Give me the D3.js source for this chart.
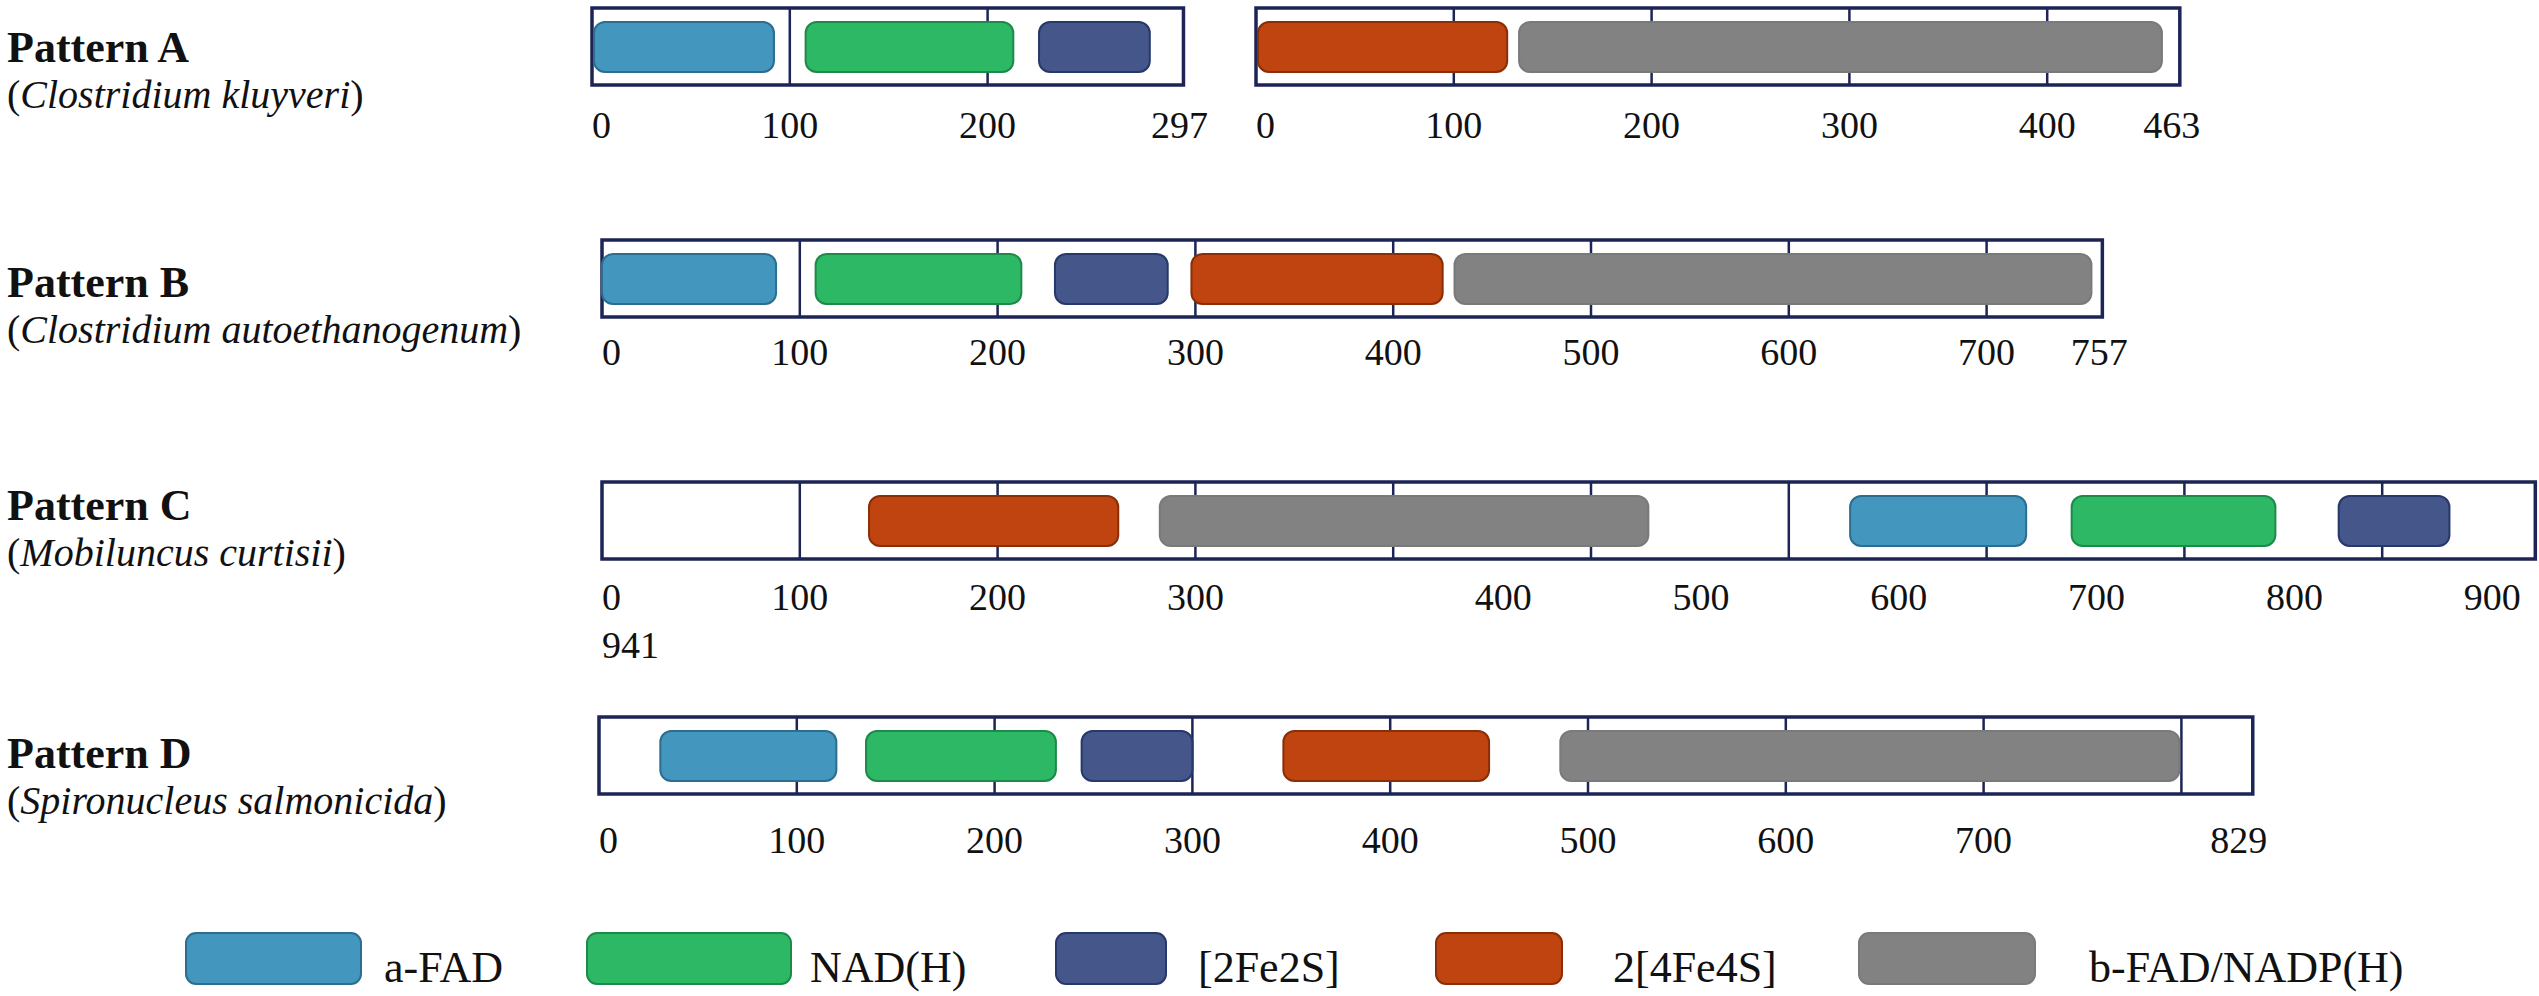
<!DOCTYPE html>
<html>
<head>
<meta charset="utf-8">
<script src="https://cdn.jsdelivr.net/npm/d3@7/dist/d3.min.js"></script>
<style>
  body { margin: 0; background: #fff; }
  text { font-family: "Liberation Serif", "Times New Roman", serif; fill: #111; }
</style>
</head>
<body>
<script>
// ---- data ----
const patternNames = ["Pattern A", "Pattern B", "Pattern C", "Pattern D"];
const speciesNames = ["Clostridium kluyveri", "Clostridium autoethanogenum", "Mobiluncus curtisii", "Spironucleus salmonicida"];
const domainTypes = ["a-FAD", "NAD(H)", "[2Fe2S]", "2[4Fe4S]", "b-FAD/NADP(H)"];

// protein segments (pattern A is split in two chains)
const segmentPattern = [0, 0, 1, 2, 3];
const segmentLength = [297, 463, 757, 941, 829];

// domains per segment: [type, start, end] in residues
const domainsA1 = [["a-FAD", 1, 92], ["NAD(H)", 108, 213], ["[2Fe2S]", 226, 282]];
const domainsA2 = [["2[4Fe4S]", 1, 127], ["b-FAD/NADP(H)", 133, 458]];
const domainsB = [["a-FAD", 0, 88], ["NAD(H)", 108, 212], ["[2Fe2S]", 229, 286], ["2[4Fe4S]", 298, 425], ["b-FAD/NADP(H)", 431, 753]];
const domainsC = [["2[4Fe4S]", 135, 261], ["b-FAD/NADP(H)", 282, 529], ["a-FAD", 631, 720], ["NAD(H)", 743, 846], ["[2Fe2S]", 878, 934]];
const domainsD = [["a-FAD", 31, 120], ["NAD(H)", 135, 231], ["[2Fe2S]", 244, 300], ["2[4Fe4S]", 346, 450], ["b-FAD/NADP(H)", 486, 799]];
const segmentDomains = [domainsA1, domainsA2, domainsB, domainsC, domainsD];

// tick labels per segment
const ticksA1 = [0, 100, 200, 297];
const ticksA2 = [0, 100, 200, 300, 400, 463];
const ticksB = [0, 100, 200, 300, 400, 500, 600, 700, 757];
const ticksC = [0, 100, 200, 300, 400, 500, 600, 700, 800, 900];
const ticksD = [0, 100, 200, 300, 400, 500, 600, 700, 829];
const segmentTicks = [ticksA1, ticksA2, ticksB, ticksC, ticksD];

// ---- layout ----
const width = 2539, height = 996;
const segLeft = [592, 1256, 602, 602, 599];
const segPad = [4, 8, 3, 72, 14];
const rowTop = [8, 240, 482, 717];
const titleY = [62, 297, 520, 768];
const tickY = [138, 365, 610, 853];
const boxH = 77;
const barTop = 14, barH = 50;
const legendX = [186, 587, 1056, 1436, 1859];
const legendW = [175, 204, 110, 126, 176];
const legendGap = [23, 19, 32, 51, 54];

const fillColor = d3.scaleOrdinal(domainTypes, ["#4396bd", "#2db866", "#44568a", "#c0440f", "#828282"]);
const edgeColor = d3.scaleOrdinal(domainTypes, ["#2c6e8f", "#1e8a4a", "#27386a", "#8a2e07", "#7a7a7a"]);

// residues -> pixels, same density for every chain
const x = d3.scaleLinear().domain([0, 100]).range([0, 197.8]);

const svg = d3.select("body").append("svg")
  .attr("width", width)
  .attr("height", height);

// titles
patternNames.forEach((name, i) => {
  svg.append("text")
    .attr("x", 7).attr("y", titleY[i])
    .style("font-size", "44px").style("font-weight", "bold")
    .text(name);
  const sub = svg.append("text")
    .attr("x", 7).attr("y", titleY[i] + 46)
    .style("font-size", "40px");
  sub.append("tspan").text("(");
  sub.append("tspan").style("font-style", "italic").text(speciesNames[i]);
  sub.append("tspan").text(")");
});

// chains
segmentLength.forEach((len, s) => {
  const row = segmentPattern[s];
  const g = svg.append("g")
    .attr("transform", `translate(${segLeft[s]},${rowTop[row]})`);
  const right = x(len) + segPad[s];

  g.append("rect")
    .attr("x", 0).attr("y", 0)
    .attr("width", right).attr("height", boxH)
    .attr("fill", "#fff")
    .attr("stroke", "#1c2556").attr("stroke-width", 3.5);

  g.selectAll("line.div")
    .data(d3.range(100, len, 100))
    .join("line")
    .attr("x1", d => x(d)).attr("x2", d => x(d))
    .attr("y1", 0).attr("y2", boxH)
    .attr("stroke", "#1c2556").attr("stroke-width", 2.5);

  g.selectAll("rect.dom")
    .data(segmentDomains[s])
    .join("rect")
    .attr("x", d => x(d[1]))
    .attr("width", d => x(d[2]) - x(d[1]))
    .attr("y", barTop).attr("height", barH)
    .attr("rx", 11)
    .attr("fill", d => fillColor(d[0]))
    .attr("stroke", d => edgeColor(d[0])).attr("stroke-width", 2);

  // tick labels (pattern C's figure labels drift right after 300)
  const ticks = segmentTicks[s];
  const shift = v => (s === 3 && v >= 400) ? 110 : 0;
  g.selectAll("text.tick")
    .data(ticks)
    .join("text")
    .attr("x", d => x(d) + shift(d))
    .attr("y", tickY[row] - rowTop[row])
    .attr("text-anchor", d => d === 0 ? "start" : "middle")
    .style("font-size", "38px")
    .text(d => d);

  if (s === 3) {
    g.append("text")
      .attr("x", 0).attr("y", tickY[row] - rowTop[row] + 48)
      .style("font-size", "38px")
      .text(len);
  }
});

// legend
const leg = svg.append("g");
domainTypes.forEach((t, i) => {
  leg.append("rect")
    .attr("x", legendX[i]).attr("y", 933)
    .attr("width", legendW[i]).attr("height", 51)
    .attr("rx", 10)
    .attr("fill", fillColor(t))
    .attr("stroke", edgeColor(t)).attr("stroke-width", 2);
  leg.append("text")
    .attr("x", legendX[i] + legendW[i] + legendGap[i]).attr("y", 982)
    .style("font-size", "44px")
    .text(t);
});
</script>
</body>
</html>
